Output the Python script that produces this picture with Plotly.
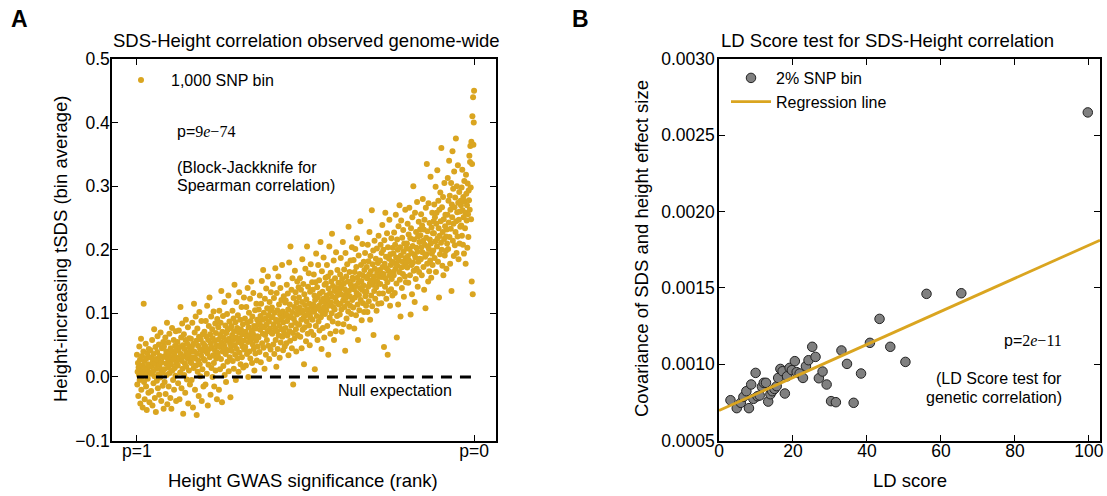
import numpy as np
import plotly.graph_objects as go

W, H = 1107, 496

# ---- Panel A: bin-average height-increasing tSDS, ordered by GWAS rank (values x 1000)
tsds_milli = [
    35, -12, 8, 22, -30, 15, 3, 48, -5, 27, -42, 10, 60, -20, 0, 33, 18, -48, 6, 40, 115, -8, 25, -35, 14, 2, 52, -15, 29, -52, 11, 37, -3, 20, -25, 44, 7, -40, 31, 16,
    42, 5, -22, 30, 17, 58, -45, 24, 9, -10, 36, 75, 1, -33, 21, 47, -55, 13, 28, -6, 39, 64, -18, 26, 4, 51, -28, 19, 33, -1, 70, 12, -38, 23, 45, 7, -14, 31, 55, -50,
    48, 12, -8, 33, 62, -27, 21, 40, 3, 85, -43, 29, 15, 54, -15, 37, 68, 6, 24, -33, 45, 19, -50, 31, 77, 10, 40, -5, 27, 58, -20, 36, 14, 49, 2, 72, -38, 22, 43, 30,
    55, 18, -10, 41, 73, 28, -35, 47, 7, 110, 36, 62, -18, 25, 84, 13, 50, -58, 32, 67, 3, 44, 21, -25, 58, 90, 16, 38, -4, 52, 29, 78, -42, 35, 10, 61, 46, -12, 24, 40,
    60, 22, -5, 48, 85, 31, -48, 52, 14, 115, 40, 70, -20, 29, 95, 18, 57, -60, 37, 76, 8, 49, 26, -30, 63, 102, 20, 44, 1, 59, 34, 88, -38, 41, 12, 67, 53, -15, 28, 45,
    71, 26, 49, -12, 88, 40, 63, 5, 112, 37, -45, 58, 19, 80, 44, 125, 31, 67, -28, 52, 95, 14, 46, 75, 0, 61, 34, 103, 22, -15, 57, 42, 84, 10, 69, 29, 50, -35, 91, 38,
    33, 78, 59, -20, 104, 47, 12, 66, 85, 28, 135, 54, -40, 71, 40, 96, 17, 62, 50, 118, 3, 45, 81, 36, -8, 69, 57, 99, 24, 74, 42, 128, 9, 60, 87, 31, 52, -32, 77, 48,
    80, 41, 66, 104, 25, 58, 92, 13, 72, 145, 50, 35, 86, -5, 62, 118, 44, 77, 29, 97, 55, 8, 70, 133, 38, 61, 90, 20, 75, 53, 110, 31, 67, 48, 83, 15, 57, 125, 43, 68,
    92, 47, 71, 18, 110, 63, 36, 85, 140, 55, 0, 78, 101, 40, 66, 123, 29, 88, 59, 150, 73, 22, 95, 51, 68, 132, 44, 80, 10, 62, 105, 37, 76, 57, 115, 26, 90, 64, 48, 83,
    62, 106, 84, 39, 128, 74, 96, 23, 115, 80, 151, 53, 90, 68, 168, 46, 101, 78, 13, 123, 66, 92, 35, 139, 83, 58, 108, 72, 158, 49, 97, 87, 28, 118, 76, 104, 43, 133, 70, 94,
    109, 68, 94, 146, 51, 83, 124, 36, 101, 76, 171, 58, 90, 16, 132, 72, 105, 44, 87, 158, 65, 114, 80, 30, 98, 140, 54, 92, 121, 75, 176, 63, 103, 42, 86, 127, 69, 96, 48, 117,
    77, 120, 99, 53, 145, 88, 65, 131, 106, 34, 93, 180, 72, 114, 57, 205, 96, 81, 137, 45, 102, 155, 69, -12, 124, 91, 110, 61, 167, 85, 133, 75, 40, 117, 98, 150, 66, 104, 83, 141,
    125, 82, 109, 155, 63, 101, 137, 90, 45, 118, 185, 74, 104, 146, 93, 20, 130, 78, 113, 170, 97, 56, 122, 87, 205, 106, 68, 142, 99, 163, 81, 115, 50, 134, 94, 177, 71, 110, 102, 149,
    90, 137, 114, 66, 161, 103, 128, 12, 121, 149, 80, 194, 108, 96, 141, 58, 125, 176, 87, 112, 152, 73, 131, 105, 212, 94, 118, 44, 166, 101, 134, 77, 123, 188, 109, 62, 145, 99, 117, 156,
    147, 105, 128, 176, 80, 122, 158, 35, 139, 112, 205, 93, 131, 68, 164, 117, 150, 100, 225, 126, 87, 143, 110, 183, 58, 135, 106, 155, 124, 72, 196, 118, 140, 96, 168, 129, 84, 148, 114, 137,
    133, 98, 161, 115, 187, 142, 106, 71, 154, 129, 212, 120, 83, 147, 169, 110, 138, 41, 195, 124, 158, 92, 131, 177, 116, 150, 103, 236, 135, 79, 165, 127, 112, 183, 145, 99, 139, 204, 121, 156,
    153, 109, 184, 138, 76, 165, 125, 201, 143, 97, 173, 132, 218, 156, 114, 58, 148, 191, 129, 105, 162, 140, 245, 121, 176, 151, 89, 137, 209, 160, 116, 144, 181, 102, 168, 134, 195, 127, 157, 112,
    134, 173, 155, 102, 208, 142, 182, 119, 161, 228, 147, 90, 190, 166, 128, 152, 262, 111, 177, 145, 199, 66, 158, 135, 214, 170, 123, 151, 186, 141, 104, 202, 164, 149, 179, 115, 222, 157, 131, 168,
    183, 146, 208, 164, 116, 195, 157, 239, 173, 131, 200, 162, 47, 215, 178, 142, 258, 155, 189, 123, 171, 226, 149, 35, 204, 167, 135, 186, 247, 160, 112, 193, 176, 138, 218, 154, 181, 128, 203, 165,
    194, 160, 227, 179, 132, 208, 170, 255, 188, 147, 62, 216, 175, 200, 114, 237, 183, 165, 270, 153, 204, 95, 191, 246, 172, 140, 219, 181, 162, 231, 197, 126, 210, 174, 158, 263, 187, 149, 202, 180,
    210, 172, 241, 190, 148, 224, 183, 266, 201, 160, 218, 98, 234, 195, 176, 130, 251, 206, 180, 300, 167, 216, 192, 118, 258, 188, 154, 228, 203, 170, 275, 197, 142, 221, 181, 244, 165, 212, 186, 232,
    223, 185, 256, 204, 160, 238, 196, 280, 214, 173, 232, 137, 247, 208, 189, 108, 266, 219, 193, 335, 178, 229, 205, 150, 273, 201, 166, 242, 216, 183, 315, 210, 156, 235, 194, 258, 176, 226, 199, 245,
    226, 271, 187, 251, 213, 299, 165, 241, 258, 205, 325, 218, 181, 277, 234, 125, 263, 222, 193, 290, 245, 211, 360, 200, 267, 175, 228, 283, 160, 248, 217, 305, 191, 237, 255, 198, 221, 170, 232, 210,
    255, 313, 201, 277, 243, 340, 220, 285, 178, 263, 233, 305, 135, 271, 251, 355, 214, 296, 241, 190, 323, 267, 207, 282, 228, 375, 245, 195, 300, 259, 221, 333, 274, 185, 247, 291, 210, 260, 236, 277,
    270, 238, 298, 222, 326, 262, 208, 283, 251, 194, 308, 276, 234, 258, 178, 318, 288, 246, 270, 203, 304, 256, 220, 293, 278, 348, 263, 338, 363, 298, 248, 370, 150, 335, 410, 130, 440, 365, 400, 450,
]
rank_ticks = [0, 1]
rank_labels = ["p=1", "p=0"]
null_level = 0.0

# ---- Panel B: 2% SNP bins, LD score vs covariance of SDS and height effect size
ld_score = [3.1, 4.8, 5.9, 6.6, 7.4, 8.1, 8.7, 9.3, 9.9, 10.4, 11.0, 11.6, 12.1, 12.7, 13.3,
            13.9, 14.4, 15.0, 15.6, 16.0, 16.6, 17.2, 17.8, 18.4, 19.1, 19.7, 20.5, 21.0,
            21.8, 22.7, 23.5, 24.2, 25.2, 26.1, 27.0, 28.0, 29.1, 30.3, 31.6, 33.1, 34.6,
            36.4, 38.4, 40.8, 43.4, 46.3, 50.4, 56.1, 65.5, 99.7]
covariance = [0.000764, 0.000712, 0.000747, 0.000786, 0.000823, 0.000712, 0.000867, 0.000773,
              0.000943, 0.000790, 0.000795, 0.000852, 0.000878, 0.000878, 0.000755, 0.000803,
              0.000823, 0.000838, 0.000856, 0.000910, 0.000969, 0.000954, 0.000808, 0.000921,
              0.000976, 0.000961, 0.001020, 0.000948, 0.000939, 0.000910, 0.000987, 0.001026,
              0.001114, 0.001048, 0.000908, 0.000952, 0.000867, 0.000758, 0.000751, 0.001090,
              0.001002, 0.000747, 0.000939, 0.001140, 0.001297, 0.001114, 0.001015, 0.001461,
              0.001465, 0.002650]
reg_intercept = 0.000696
reg_slope = 1.084e-5

GOLD = "#DAA520"
SANS = "Liberation Sans"
SERIF = "Liberation Serif"

tsds = np.array(tsds_milli) / 1000.0
rank = np.linspace(0, 1, len(tsds))

xa_range = [-0.074, 1.065]
xb_range = [0, 103]
line_x = np.array(xb_range, dtype=float)
line_y = reg_intercept + reg_slope * line_x

fig = go.Figure()

fig.add_trace(go.Scatter(
    x=rank, y=tsds, mode="markers", name="1,000 SNP bin",
    marker=dict(color=GOLD, size=6, line=dict(width=0)),
    xaxis="x", yaxis="y", legend="legend",
))
fig.add_trace(go.Scatter(
    x=rank_ticks, y=[null_level, null_level], mode="lines", showlegend=False,
    line=dict(color="black", width=3, dash="11px,8px"),
    xaxis="x", yaxis="y",
))

fig.add_trace(go.Scatter(
    x=ld_score, y=covariance, mode="markers", name="2% SNP bin",
    marker=dict(color="#808080", size=9.5, line=dict(color="#222222", width=1)),
    xaxis="x2", yaxis="y2", legend="legend2",
))
fig.add_trace(go.Scatter(
    x=line_x, y=line_y, mode="lines", name="Regression line",
    line=dict(color=GOLD, width=2.8),
    xaxis="x2", yaxis="y2", legend="legend2",
))


def px(x):
    return x / W


def py(y):
    return 1 - y / H


axis_common = dict(
    showline=True, linewidth=1.5, linecolor="black", mirror="ticks",
    ticks="inside", ticklen=6, tickwidth=1.2, tickcolor="black",
    showgrid=False, zeroline=False, automargin=False,
    tickfont=dict(family=SANS, size=17.5, color="black"),
)

yd = [py(440.5), py(59)]
fig.update_layout(
    width=W, height=H, autosize=False,
    margin=dict(l=0, r=0, t=0, b=0, autoexpand=False),
    paper_bgcolor="white", plot_bgcolor="white",
    font=dict(family=SANS, color="black"),
    xaxis=dict(domain=[px(112), px(496)], range=xa_range, tickvals=rank_ticks,
               ticktext=rank_labels, anchor="y", ticklabelstandoff=-6, **axis_common),
    yaxis=dict(domain=yd, range=[-0.1, 0.5], dtick=0.1, tick0=0, tickformat=".1f",
               anchor="x", ticklabelstandoff=-3, **axis_common),
    xaxis2=dict(domain=[px(719), px(1100)], range=xb_range, dtick=20, tick0=0,
                anchor="y2", ticklabelstandoff=-6, **axis_common),
    yaxis2=dict(domain=yd, range=[0.0005, 0.0030], dtick=0.0005, tick0=0.0005,
                tickformat=".4f", anchor="x2", ticklabelstandoff=-1, **axis_common),
    legend=dict(x=px(111), y=py(63), xanchor="left", yanchor="top",
                bgcolor="rgba(0,0,0,0)", borderwidth=0, itemwidth=50,
                font=dict(family=SANS, size=16, color="black")),
    legend2=dict(x=px(726), y=py(61), xanchor="left", yanchor="top",
                 bgcolor="rgba(0,0,0,0)", borderwidth=0, itemwidth=40,
                 font=dict(family=SANS, size=16, color="black")),
    showlegend=True,
)

ann = []


def add_text(text, x, y, size=16, xanchor="center", yanchor="middle", angle=0, bold=False):
    t = f"<b>{text}</b>" if bold else text
    ann.append(dict(text=t, x=px(x), y=py(y), xref="paper", yref="paper",
                    xanchor=xanchor, yanchor=yanchor, showarrow=False, textangle=angle,
                    font=dict(family=SANS, size=size, color="black")))


add_text("A", 9, 19, size=23, xanchor="left", bold=True)
add_text("B", 570, 19, size=23, xanchor="left", bold=True)
add_text("SDS-Height correlation observed genome-wide", 306, 40, size=18.5)
add_text("LD Score test for SDS-Height correlation", 887, 40, size=18.5)
add_text("Height GWAS significance (rank)", 303, 480, size=18.5)
add_text("LD score", 910, 480, size=18.5)
add_text("Height-increasing tSDS (bin average)", 60, 249, size=18.5, angle=-90)
add_text("Covariance of SDS and height effect size", 641, 249, size=18.5, angle=-90)

serif_p_a = f'p=<span style="font-family:{SERIF}">9<i>e</i>−74</span>'
serif_p_b = f'p=<span style="font-family:{SERIF}">2<i>e</i>−11</span>'
add_text(serif_p_a, 175, 131, size=16, xanchor="left")
add_text("(Block-Jackknife for", 175, 167, size=16, xanchor="left")
add_text("Spearman correlation)", 175, 185, size=16, xanchor="left")
add_text("Null expectation", 395, 390, size=16)
add_text(serif_p_b, 1064, 340, size=16, xanchor="right")
add_text("(LD Score test for", 1064, 378, size=16, xanchor="right")
add_text("genetic correlation)", 1064, 397, size=16, xanchor="right")

fig.update_layout(annotations=ann)

fig.write_html("out.html")
